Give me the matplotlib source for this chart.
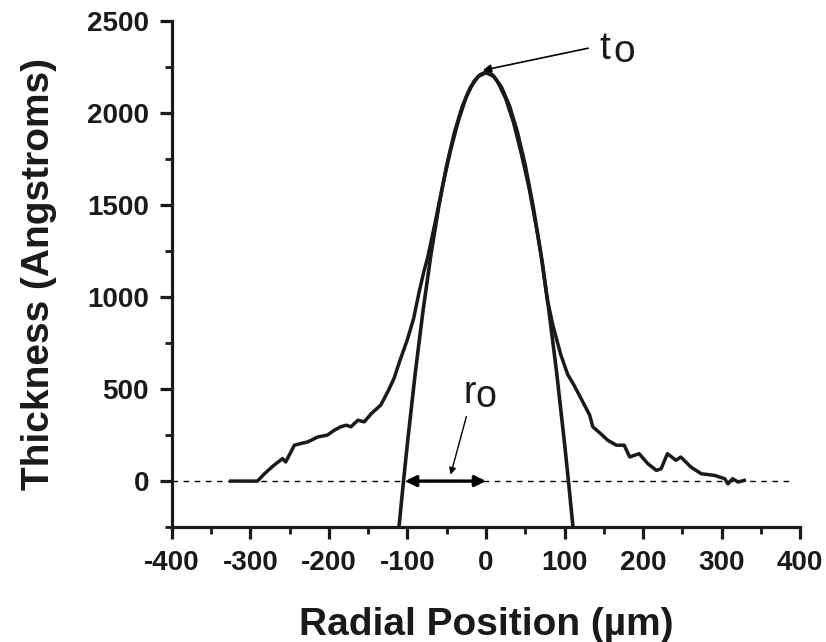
import matplotlib
matplotlib.use("Agg")
import matplotlib.pyplot as plt
from matplotlib.ticker import MultipleLocator

# measured film profile (radial position in um, thickness in Angstroms)
profile_x = [-325, -310, -291, -282, -270, -259, -255, -244, -236, -227, -214, -202,
             -193, -185, -178, -172, -163, -155, -146, -134, -125, -117, -110, -100,
             -92, -85, -79, -74, -65, -55, -45, -35, -25, -15, -7, 0, 8, 15, 25, 35, 45, 55,
             65, 72, 78, 85, 95, 104, 112, 121, 132, 136, 146, 155, 166, 176, 183,
             195, 206, 217, 223, 231, 242, 248, 261, 274, 291, 304, 308, 314, 321, 329]
profile_y = [0, 0, 0, 40, 86, 122, 104, 195, 204, 213, 240, 250,
             277, 295, 304, 295, 331, 322, 367, 413, 486, 559, 650, 770,
             886, 1030, 1140, 1220, 1400, 1610, 1800, 1960, 2090, 2175, 2210, 2224, 2210, 2170, 2080, 1950, 1780, 1590,
             1360, 1180, 990, 850, 690, 580, 522, 449, 359, 295, 258, 222, 195, 195, 131,
             149, 95, 58, 67, 149, 113, 131, 76, 40, 31, 13, -15, 13, -5, 4]

# fitted cap
fit_x = [-111, -105, -100, -90, -80, -70, -60, -50, -40, -30, -20, -10, 0,
         10, 20, 30, 40, 50, 60, 70, 80, 90, 100, 105, 111]
fit_y = [-260, 0, 206, 589, 931, 1233, 1495, 1717, 1898, 2039, 2139, 2200, 2220,
         2200, 2139, 2039, 1898, 1717, 1495, 1233, 931, 589, 206, 0, -260]

x_ticks = [-400, -300, -200, -100, 0, 100, 200, 300, 400]
y_ticks = [0, 500, 1000, 1500, 2000, 2500]

plt.rcParams["font.family"] = ["Liberation Sans", "DejaVu Sans"]
plt.rcParams["axes.unicode_minus"] = False

ink = "#1a1a1a"
fig = plt.figure(figsize=(8.26, 6.42), dpi=100)
ax = fig.add_axes([0.208, 0.179, 0.7607, 0.788])

ax.plot([-400, 390], [0, 0], color="black", lw=1.0, dashes=(4, 4))
ax.plot(profile_x, profile_y, color=ink, lw=2.5, solid_joinstyle="round")
ax.plot(fit_x, fit_y, color=ink, lw=2.6)

ax.set_xlim(-400, 400)
ax.set_ylim(-250, 2500)
ax.set_xticks(x_ticks)
ax.set_yticks(y_ticks)
ax.xaxis.set_minor_locator(MultipleLocator(50))
ax.yaxis.set_minor_locator(MultipleLocator(250))

for side in ("top", "right"):
    ax.spines[side].set_visible(False)
for side in ("left", "bottom"):
    ax.spines[side].set_linewidth(2.3)
    ax.spines[side].set_color(ink)

ax.tick_params(which="major", direction="out", length=8.5, width=2.3, pad=8,
               labelsize=20, colors=ink)
ax.tick_params(which="minor", direction="out", length=5, width=2.0, colors=ink)
for lab in ax.get_xticklabels() + ax.get_yticklabels():
    lab.set_fontweight("bold")

ax.set_xlabel("Radial Position (\u00b5m)", fontsize=28, fontweight="bold", color=ink)
ax.set_ylabel("Thickness (Angstroms)", fontsize=28, fontweight="bold", color=ink)
ax.xaxis.set_label_coords(0.5, -0.158)
ax.yaxis.set_label_coords(-0.182, 0.5)

# t0 annotation
ax.annotate("", xy=(-4, 2233), xytext=(130, 2353),
            arrowprops=dict(arrowstyle="-|>", lw=1.2, color="black", mutation_scale=12,
                            shrinkA=0, shrinkB=0))
ax.text(145, 2350, "t", fontsize=28, va="center", ha="left", color=ink)
ax.text(162, 2330, "o", fontsize=28, va="center", ha="left", color=ink)

# r0 annotation
ax.annotate("", xy=(-103, 0), xytext=(0, 0),
            arrowprops=dict(arrowstyle="<|-|>", lw=2.4, color="black", mutation_scale=16,
                            shrinkA=0, shrinkB=0))
ax.annotate("", xy=(-45, 35), xytext=(-25, 350),
            arrowprops=dict(arrowstyle="-|>", lw=1.0, color="black", mutation_scale=10,
                            shrinkA=0, shrinkB=0))
ax.text(-28, 480, "r", fontsize=27, va="center", ha="left", color=ink)
ax.text(-14, 455, "o", fontsize=27, va="center", ha="left", color=ink)

fig.savefig("out.png", dpi=100)
